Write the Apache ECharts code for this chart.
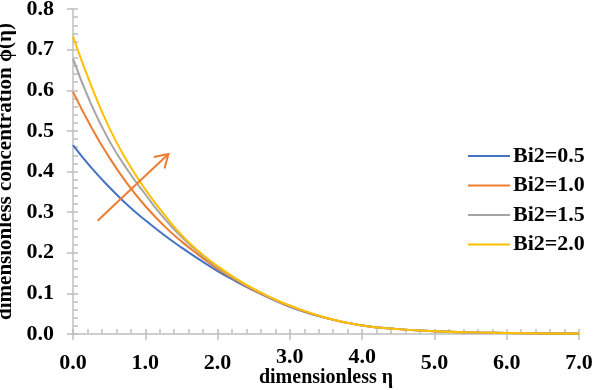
<!DOCTYPE html>
<html>
<head>
<meta charset="utf-8">
<script src="https://cdn.jsdelivr.net/npm/echarts@6/dist/echarts.min.js"></script>
<style>html,body{margin:0;padding:0;background:#fff;}#c{width:594px;height:390px;}</style>
</head>
<body>
<div id="c"></div>
<script>
var eta  = [0,0.25,0.5,0.75,1,1.25,1.5,1.75,2,2.25,2.5,2.75,3,3.5,4,4.5,5,5.5,6,6.5,7];
var bi05 = [0.465,0.41,0.362,0.318,0.28,0.245,0.213,0.183,0.155,0.13,0.107,0.086,0.067,0.039,0.021,0.012,0.007,0.004,0.0025,0.0015,0.001];
var bi10 = [0.596,0.51,0.435,0.37,0.315,0.268,0.228,0.193,0.16,0.133,0.108,0.087,0.068,0.039,0.021,0.012,0.007,0.004,0.0025,0.0015,0.001];
var bi15 = [0.678,0.566,0.476,0.405,0.344,0.287,0.239,0.199,0.164,0.135,0.11,0.088,0.069,0.04,0.021,0.012,0.007,0.004,0.0025,0.0015,0.001];
var bi20 = [0.732,0.612,0.508,0.425,0.356,0.297,0.244,0.202,0.167,0.137,0.111,0.089,0.07,0.04,0.021,0.012,0.007,0.004,0.0025,0.0015,0.001];
var seriesNames = ['Bi2=0.5','Bi2=1.0','Bi2=1.5','Bi2=2.0'];
var raisedTicks = [3, 4];
var arrowStart = [0.34, 0.279];
var arrowEnd = [1.32, 0.443];

var colors = ['#4472C4','#ED7D31','#A5A5A5','#FFC000'];
var axisColor = '#BFBFBF';
var font = '"Liberation Serif", "Times New Roman", serif';

function pairs(v){ return eta.map(function(x,i){ return [x, v[i]]; }); }
var allVals = [bi05, bi10, bi15, bi20];

var series = allVals.map(function(v,i){
  return {
    name: seriesNames[i], type:'line', data: pairs(v), smooth: true,
    showSymbol:false, symbol:'none', xAxisIndex:0, yAxisIndex:0,
    lineStyle:{ width:2, color: colors[i] }, itemStyle:{ color: colors[i] }, z: 3 + i
  };
});
series.push({
  type:'custom', xAxisIndex:0, yAxisIndex:0, silent:true, z:10,
  data:[[arrowStart[0], arrowStart[1], arrowEnd[0], arrowEnd[1]]],
  renderItem: function(params, api){
    var p0 = api.coord([api.value(0), api.value(1)]);
    var p1 = api.coord([api.value(2), api.value(3)]);
    var ang = Math.atan2(p1[1]-p0[1], p1[0]-p0[0]);
    var L = 15, a = 0.55;
    var h1 = [p1[0]-L*Math.cos(ang-a), p1[1]-L*Math.sin(ang-a)];
    var h2 = [p1[0]-L*Math.cos(ang+a), p1[1]-L*Math.sin(ang+a)];
    var st = { stroke: '#ED7D31', lineWidth: 2, fill: null };
    return { type:'group', children:[
      { type:'line', shape:{ x1:p0[0], y1:p0[1], x2:p1[0], y2:p1[1] }, style: st },
      { type:'polyline', shape:{ points:[h1, p1, h2] }, style: st }
    ]};
  }
});

var chart = echarts.init(document.getElementById('c'), null, {renderer:'canvas'});
chart.setOption({
  animation:false,
  backgroundColor:'#fff',
  grid:{ left:73, right:15, top:9, bottom:56, containLabel:false, outerBoundsMode:'none' },
  legend:{
    data: seriesNames, orient:'vertical', left:463, top:140,
    icon:'rect', itemWidth:42, itemHeight:2, itemGap:7.5,
    textStyle:{ fontFamily: font, fontWeight:'bold', fontSize:22, color:'#000', padding:[0,0,0,-2] }
  },
  xAxis:[{
    type:'value', min:0, max:7, interval:1,
    name:'dimensionless η', nameLocation:'middle', nameGap:34, nameMoveOverlap:false,
    nameTextStyle:{ fontFamily:font, fontWeight:'bold', fontSize:20, color:'#000' },
    axisLine:{ show:true, lineStyle:{ color:axisColor, width:1.5 } },
    axisTick:{ show:true, inside:true, length:5, lineStyle:{ color:axisColor, width:1.5 } },
    minorTick:{ show:true, splitNumber:5, length:5, lineStyle:{ color:axisColor, width:1.5 } },
    splitLine:{ show:false },
    axisLabel:{ margin:18, fontFamily:font, fontWeight:'bold', fontSize:22, color:'#000',
      formatter:function(v){
        var s = v.toFixed(1);
        return raisedTicks.indexOf(v) >= 0 ? '{r|' + s + '}' : s;
      },
      rich:{ r:{ fontFamily:font, fontWeight:'bold', fontSize:22, color:'#000', lineHeight:10 } }
    }
  },{
    type:'value', min:0, max:7, interval:1, position:'bottom',
    axisLine:{ show:false }, axisLabel:{ show:false }, splitLine:{ show:false },
    axisTick:{ show:true, inside:false, length:6, lineStyle:{ color:axisColor, width:1.5 } }
  }],
  yAxis:[{
    type:'value', min:0, max:0.8, interval:0.1,
    name:'dimensionless concentration ϕ(η)', nameLocation:'middle', nameGap:53, nameRotate:90,
    nameTextStyle:{ fontFamily:font, fontWeight:'bold', fontSize:21, color:'#000' },
    axisLine:{ show:true, lineStyle:{ color:axisColor, width:1.5 } },
    axisTick:{ show:true, inside:true, length:5, lineStyle:{ color:axisColor, width:1.5 } },
    minorTick:{ show:true, splitNumber:5, length:5, lineStyle:{ color:axisColor, width:1.5 } },
    splitLine:{ show:false },
    axisLabel:{ margin:19, fontFamily:font, fontWeight:'bold', fontSize:22, color:'#000',
      formatter:function(v){ return v.toFixed(1); } }
  },{
    type:'value', min:0, max:0.8, interval:0.1, position:'left',
    axisLine:{ show:false }, axisLabel:{ show:false }, splitLine:{ show:false },
    axisTick:{ show:true, inside:false, length:6, lineStyle:{ color:axisColor, width:1.5 } }
  }],
  series: series
});
</script>
</body>
</html>
